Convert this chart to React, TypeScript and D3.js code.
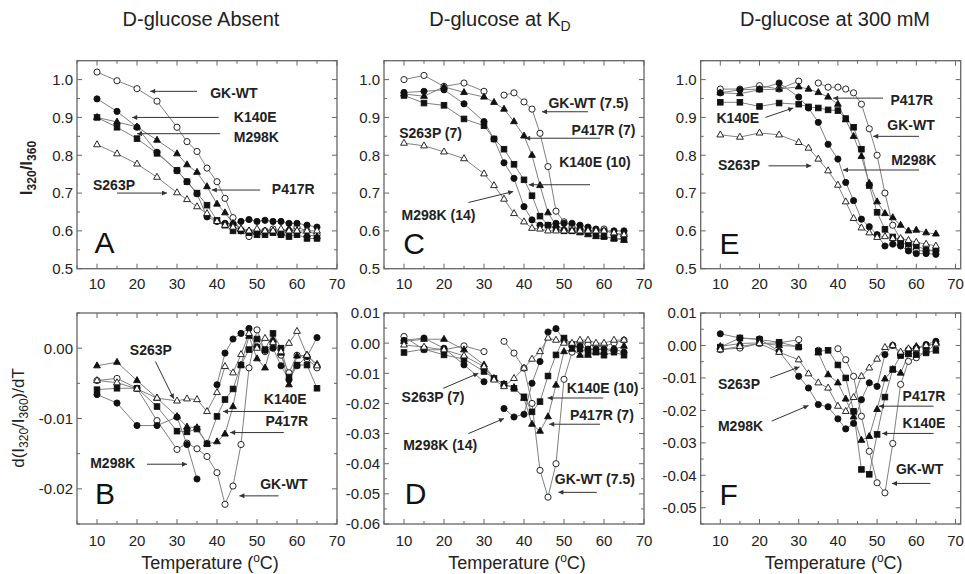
import React from "react";
import * as d3 from "d3";

// sampling temperatures (oC), shared by every curve
const temps = [10, 15, 20, 25, 30, 32.5, 35, 37.5, 40, 42, 44, 46, 48, 50, 52, 54, 56, 58, 60, 62.5, 65];

const seriesNames = ["GK-WT", "K140E", "M298K", "P417R", "S263P"];

// A: D-glucose absent, I320/I360
const absentWT = [1.02, 0.997, 0.976, 0.943, 0.874, 0.836, 0.81, 0.766, 0.73, 0.686, 0.635, 0.6, 0.585, 0.595, 0.6, 0.605, 0.59, 0.6, 0.61, 0.6, 0.59];
const absentK140E = [0.9, 0.874, 0.844, 0.805, 0.76, 0.73, 0.7, 0.668, 0.628, 0.615, 0.6, 0.6, 0.595, 0.59, 0.59, 0.595, 0.59, 0.585, 0.59, 0.58, 0.58];
const absentM298K = [0.949, 0.916, 0.874, 0.808, 0.759, 0.73, 0.698, 0.637, 0.625, 0.62, 0.618, 0.625, 0.63, 0.625, 0.628, 0.625, 0.625, 0.62, 0.62, 0.615, 0.61];
const absentP417R = [0.9, 0.888, 0.875, 0.84, 0.804, 0.775, 0.755, 0.717, 0.671, 0.648, 0.62, 0.605, 0.6, 0.598, 0.6, 0.6, 0.595, 0.605, 0.6, 0.59, 0.585];
const absentS263P = [0.828, 0.804, 0.777, 0.742, 0.701, 0.683, 0.664, 0.646, 0.625, 0.615, 0.61, 0.605, 0.6, 0.605, 0.6, 0.6, 0.605, 0.6, 0.6, 0.6, 0.6];

// B: derivative, D-glucose absent
const dAbsentWT = [-0.0046, -0.0043, -0.0057, -0.0103, -0.0144, -0.0135, -0.0143, -0.0154, -0.0177, -0.0222, -0.0196, -0.0137, -0.0028, 0.0026, -0.0005, 0.0008, -0.001, -0.0035, -0.001, -0.0015, -0.0028];
const dAbsentK140E = [-0.0059, -0.0057, -0.0057, -0.0083, -0.0118, -0.0119, -0.0115, -0.0136, -0.0097, -0.0073, -0.0058, -0.0024, -0.0002, 0.0013, -0.0002, 0.0021, 0.0, -0.0041, -0.0024, -0.0024, -0.0057];
const dAbsentM298K = [-0.0066, -0.0078, -0.011, -0.011, -0.0098, -0.0137, -0.0186, null, -0.0052, -0.0007, 0.0013, 0.0021, 0.0028, 0.0002, -0.0003, 0.0, -0.0025, -0.0045, -0.0025, -0.0012, 0.0015];
const dAbsentP417R = [-0.0025, -0.002, -0.0046, -0.0071, -0.0097, -0.0112, -0.0113, -0.0136, -0.0133, -0.0122, -0.0083, -0.0024, 0.0017, -0.0015, -0.0028, 0.0012, -0.0007, -0.0052, -0.0011, -0.001, -0.0023];
const dAbsentS263P = [-0.0046, -0.0049, -0.0058, -0.0071, -0.0075, -0.0072, -0.0073, -0.009, -0.0063, -0.0026, -0.0035, -0.0009, 0.0021, 0.0, 0.0014, 0.0008, -0.0005, 0.0007, 0.0024, -0.001, -0.0025];

// C: D-glucose at KD
const kdWT = [1.0, 1.011, 0.982, 0.991, 0.969, null, 0.959, 0.965, 0.941, 0.922, 0.858, 0.77, 0.652, 0.624, 0.61, 0.605, 0.6, 0.6, 0.605, 0.59, 0.59];
const kdK140E = [0.958, 0.938, 0.932, 0.896, 0.878, 0.843, 0.816, 0.776, 0.735, 0.693, 0.639, 0.615, 0.605, 0.6, 0.6, 0.6, 0.595, 0.59, 0.585, 0.58, 0.58];
const kdM298K = [0.966, 0.969, 0.973, 0.936, 0.889, 0.843, 0.78, 0.739, 0.664, 0.629, 0.615, 0.615, 0.62, 0.62, 0.62, 0.615, 0.61, 0.605, 0.6, 0.6, 0.6];
const kdP417R = [0.962, 0.956, 0.981, 0.966, 0.954, 0.94, 0.922, 0.889, 0.851, 0.8, 0.72, 0.648, 0.615, 0.605, 0.6, 0.595, 0.59, 0.585, 0.585, 0.58, 0.575];
const kdS263P = [0.832, 0.825, 0.809, 0.791, 0.751, 0.72, 0.684, 0.646, 0.624, 0.607, 0.605, 0.6, 0.6, 0.6, 0.6, 0.6, 0.6, 0.6, 0.6, 0.595, 0.59];

// D: derivative, D-glucose at KD
const dKdWT = [0.0022, -0.0022, -0.0022, -0.0009, -0.0028, null, 0.0006, -0.0033, -0.0083, -0.02, -0.0422, -0.0511, -0.04, -0.012, -0.003, 0.0, -0.0005, -0.001, -0.001, 0.0, 0.001];
const dKdK140E = [-0.0031, -0.002, -0.0039, -0.0053, -0.0094, -0.0117, -0.0136, -0.015, -0.0178, -0.0228, -0.0194, -0.0109, -0.0039, 0.0017, -0.0005, -0.002, -0.003, -0.003, -0.004, -0.003, -0.004];
const dKdM298K = [0.0009, 0.0017, -0.0017, -0.0072, -0.0128, null, -0.0217, -0.0245, -0.0236, -0.0133, -0.0061, 0.0037, 0.0048, 0.001, -0.001, -0.001, -0.002, -0.002, -0.002, -0.002, -0.003];
const dKdP417R = [0.0006, 0.0013, 0.0013, -0.0022, -0.0072, -0.0117, -0.0136, -0.0147, -0.0183, -0.0269, -0.0292, -0.0244, -0.0139, -0.0028, -0.002, -0.004, -0.004, -0.003, -0.003, -0.002, -0.001];
const dKdS263P = [-0.0006, -0.0013, -0.0022, -0.0042, -0.0078, -0.0122, -0.0144, -0.0117, -0.0083, -0.0053, -0.0028, 0.0017, 0.001, 0.0, 0.0, 0.001, 0.001, 0.0, 0.0, 0.001, 0.001];

// E: D-glucose at 300 mM
const sat300WT = [0.975, 0.975, 0.984, 0.975, 0.996, null, 0.991, 0.98, 0.98, 0.975, 0.965, 0.935, 0.87, 0.8, 0.7, 0.615, 0.577, 0.555, 0.548, 0.547, 0.548];
const sat300K140E = [0.94, 0.94, 0.929, 0.938, 0.935, 0.928, 0.925, 0.92, 0.918, 0.897, 0.874, 0.816, 0.72, 0.649, 0.604, 0.584, 0.568, 0.565, 0.56, 0.55, 0.548];
const sat300M298K = [0.965, 0.973, 0.975, 0.991, 0.954, 0.925, 0.887, 0.829, 0.79, 0.728, 0.68, 0.631, 0.611, 0.59, 0.56, 0.565, 0.56, 0.547, 0.54, 0.54, 0.538];
const sat300P417R = [0.965, 0.963, 0.973, 0.975, 0.981, 0.975, 0.966, 0.954, 0.935, 0.894, 0.85, 0.797, 0.726, 0.677, 0.646, 0.635, 0.615, 0.6, 0.602, 0.595, 0.592];
const sat300S263P = [0.854, 0.848, 0.859, 0.854, 0.834, 0.819, 0.79, 0.759, 0.721, 0.677, 0.633, 0.608, 0.595, 0.583, 0.585, 0.58, 0.58, 0.575, 0.57, 0.565, 0.56];

// F: derivative, D-glucose at 300 mM
const dSat300WT = [-0.0013, -0.0008, 0.0006, 0.0008, 0.0018, null, -0.0015, null, -0.001, -0.0044, -0.0095, -0.0218, -0.0326, -0.0423, -0.0454, -0.0302, -0.012, -0.0049, -0.0038, -0.002, 0.0005];
const dSat300K140E = [-0.0005, 0.0023, 0.0018, 0.001, -0.0005, null, -0.0018, -0.0015, -0.006, -0.01, -0.0203, -0.0382, -0.0397, -0.0274, -0.0159, -0.0074, -0.0031, -0.0023, -0.0028, -0.0023, -0.0015];
const dSat300M298K = [0.0036, 0.0023, 0.002, -0.0018, -0.0095, -0.0131, -0.0182, -0.0189, -0.0226, -0.0257, -0.024, -0.0167, -0.0115, -0.0126, -0.0028, 0.0, -0.0028, -0.0013, -0.0008, 0.0003, 0.0013];
const dSat300P417R = [-0.0003, 0.0006, 0.0008, 0.0, -0.0003, null, -0.0023, -0.009, -0.0115, -0.0165, -0.022, -0.0292, -0.028, -0.0197, -0.0103, -0.0074, -0.0085, -0.0028, -0.0003, -0.0005, 0.0009];
const dSat300S263P = [-0.0013, -0.0003, 0.0006, -0.0021, -0.0044, -0.0087, -0.0115, -0.0131, -0.0187, -0.0203, -0.016, -0.0095, -0.0069, -0.0042, -0.0006, 0.0, -0.002, -0.001, -0.001, 0.0, 0.0005];

const xTicks = [10, 20, 30, 40, 50, 60, 70];
const ratioTicks = [0.5, 0.6, 0.7, 0.8, 0.9, 1.0];
const dAbsentTicks = [-0.02, -0.01, 0.0];
const dKdTicks = [-0.06, -0.05, -0.04, -0.03, -0.02, -0.01, 0.0, 0.01];
const dSat300Ticks = [-0.05, -0.04, -0.03, -0.02, -0.01, 0.0, 0.01];

const FONT = "'Liberation Sans', Arial, Helvetica, sans-serif";

// marker style per series
const markStyle: Record<string, { shape: string; filled: boolean }> = {
  "GK-WT": { shape: "circle", filled: false },
  K140E: { shape: "square", filled: true },
  M298K: { shape: "circle", filled: true },
  P417R: { shape: "triangle", filled: true },
  S263P: { shape: "triangle", filled: false },
};

type Note = { text: string; x: number; y: number; from?: [number, number]; to?: [number, number] };

const Mark = ({ shape, filled, cx, cy }: any) => {
  const fill = filled ? "#111" : "#fff";
  if (shape === "circle") return <circle cx={cx} cy={cy} r={3.1} fill={fill} stroke="#111" strokeWidth={0.9} />;
  if (shape === "square")
    return <rect x={cx - 2.8} y={cy - 2.8} width={5.6} height={5.6} fill={fill} stroke="#111" strokeWidth={0.9} />;
  return (
    <path
      d={`M${cx},${cy - 3.9}L${cx + 3.4},${cy + 2.1}L${cx - 3.4},${cy + 2.1}Z`}
      fill={fill}
      stroke="#111"
      strokeWidth={0.9}
    />
  );
};

const Panel = ({ left, top, width, height, xEnd, yDomain, yTicks, yMinor, digits, series, notes, letter, labelGap }: any) => {
  const right = left + width;
  const bottom = top + height;
  // x=70 may sit a little inside the right frame
  const x = d3.scaleLinear().domain([5, 70]).range([left, xEnd ?? right]);
  const y = d3.scaleLinear().domain(yDomain).range([bottom, top]);

  const xMinor = d3.range(5, 70.01, 5);
  const yMinorTicks = d3.range(yDomain[0], yDomain[1] + yMinor / 2, yMinor);

  const line = d3
    .line<[number, number | null]>()
    .defined((d) => d[1] != null)
    .x((d) => x(d[0]))
    .y((d) => y(d[1] as number));

  return (
    <g>
      <rect x={left} y={top} width={width} height={height} fill="none" stroke="#666" strokeWidth={1.3} />
      {xMinor.map((t: number) => {
        const len = t % 10 === 0 ? 5 : 3;
        return (
          <g key={"x" + t} stroke="#666" strokeWidth={1}>
            <line x1={x(t)} x2={x(t)} y1={bottom} y2={bottom - len} />
            <line x1={x(t)} x2={x(t)} y1={top} y2={top + len} />
          </g>
        );
      })}
      {yMinorTicks.map((t: number, i: number) => {
        const major = yTicks.some((m: number) => Math.abs(m - t) < 1e-9);
        const len = major ? 5 : 3;
        return (
          <g key={"y" + i} stroke="#666" strokeWidth={1}>
            <line x1={left} x2={left + len} y1={y(t)} y2={y(t)} />
            <line x1={right} x2={right - len} y1={y(t)} y2={y(t)} />
          </g>
        );
      })}
      {xTicks.map((t) => (
        <text key={"xl" + t} x={x(t)} y={bottom + labelGap} textAnchor="middle" fontSize={15} fill="#222">
          {t}
        </text>
      ))}
      {yTicks.map((t: number) => (
        <text key={"yl" + t} x={left - 4} y={y(t)} dy="0.36em" textAnchor="end" fontSize={15} fill="#222">
          {Math.abs(t) < 1e-9 ? (0).toFixed(digits) : t.toFixed(digits)}
        </text>
      ))}
      {series.map((s: any) => (
        <path
          key={"l" + s.name}
          d={line(temps.map((t, i) => [t, s.values[i]]) as any) || ""}
          fill="none"
          stroke="#808080"
          strokeWidth={1}
        />
      ))}
      {series.map((s: any) =>
        temps.map((t, i) =>
          s.values[i] == null ? null : (
            <Mark key={s.name + i} {...markStyle[s.name]} cx={x(t)} cy={y(s.values[i])} />
          )
        )
      )}
      {notes.map((n: Note) => (
        <g key={n.text}>
          {n.from && n.to && (
            <line
              x1={x(n.from[0])}
              y1={y(n.from[1])}
              x2={x(n.to[0])}
              y2={y(n.to[1])}
              stroke="#333"
              strokeWidth={1}
              markerEnd="url(#arrow)"
            />
          )}
          <text x={x(n.x)} y={y(n.y)} fontSize={14} fontWeight="bold" fill="#222">
            {n.text}
          </text>
        </g>
      ))}
      <text x={x(letter.x)} y={y(letter.y)} fontSize={30} fill="#111">
        {letter.text}
      </text>
    </g>
  );
};

const build = (arrays: (number | null)[][]) => seriesNames.map((name, i) => ({ name, values: arrays[i] }));

const notesA: Note[] = [
  { text: "GK-WT", x: 38.3, y: 0.951, from: [35, 0.969], to: [23.3, 0.969] },
  { text: "K140E", x: 44.2, y: 0.887, from: [40.4, 0.9], to: [18.8, 0.9] },
  { text: "M298K", x: 44.2, y: 0.836, from: [40.8, 0.857], to: [20, 0.857] },
  { text: "P417R", x: 53.7, y: 0.698, from: [50.8, 0.708], to: [38.7, 0.708] },
  { text: "S263P", x: 9.0, y: 0.708, from: [15, 0.7], to: [27.5, 0.7] },
];
const notesB: Note[] = [
  { text: "S263P", x: 18.2, y: -0.001, from: [24.6, -0.0019], to: [29.2, -0.0072] },
  { text: "K140E", x: 51.7, y: -0.008, from: [56.7, -0.009], to: [41.5, -0.009] },
  { text: "P417R", x: 52.1, y: -0.0111, from: [56.7, -0.012], to: [43.3, -0.012] },
  { text: "M298K", x: 8.3, y: -0.017, from: [22.5, -0.0165], to: [32.5, -0.0165] },
  { text: "GK-WT", x: 50.8, y: -0.02, from: [55.4, -0.021], to: [45.6, -0.021] },
];
const notesC: Note[] = [
  { text: "GK-WT (7.5)", x: 46.1, y: 0.925, from: [56, 0.915], to: [44.5, 0.915] },
  { text: "P417R (7)", x: 51.9, y: 0.854, from: [59, 0.845], to: [40.3, 0.845] },
  { text: "K140E (10)", x: 48.8, y: 0.768, from: [56.5, 0.722], to: [41.2, 0.722] },
  { text: "S263P (7)", x: 8.8, y: 0.845 },
  { text: "M298K (14)", x: 9.4, y: 0.629, from: [26.1, 0.675], to: [37.3, 0.704] },
];
const notesD: Note[] = [
  { text: "S263P (7)", x: 9.4, y: -0.0194, from: [19.8, -0.015], to: [28.6, -0.01] },
  { text: "M298K (14)", x: 9.8, y: -0.0353, from: [26.1, -0.03], to: [35, -0.025] },
  { text: "K140E (10)", x: 50.7, y: -0.0165, from: [59.8, -0.0182], to: [45.9, -0.0182] },
  { text: "P417R (7)", x: 51.5, y: -0.0256, from: [59, -0.0269], to: [46.3, -0.0269] },
  { text: "GK-WT (7.5)", x: 47.7, y: -0.0467, from: [58.2, -0.0495], to: [48.6, -0.0495] },
];
const notesE: Note[] = [
  { text: "K140E", x: 9.0, y: 0.885, from: [21.5, 0.9], to: [28.6, 0.925] },
  { text: "S263P", x: 9.4, y: 0.761, from: [22.3, 0.772], to: [33.2, 0.772] },
  { text: "P417R", x: 53.4, y: 0.934, from: [51.5, 0.951], to: [38.8, 0.951] },
  { text: "GK-WT", x: 52.6, y: 0.866, from: [60.7, 0.85], to: [49, 0.85] },
  { text: "M298K", x: 53.6, y: 0.775, from: [60.7, 0.761], to: [41.3, 0.761] },
];
const notesF: Note[] = [
  { text: "S263P", x: 9.4, y: -0.0134, from: [22.7, -0.01], to: [30.2, -0.0066] },
  { text: "M298K", x: 9.4, y: -0.0264, from: [23.1, -0.0233], to: [32.5, -0.0185] },
  { text: "P417R", x: 56.5, y: -0.0172, from: [64.4, -0.0187], to: [50.5, -0.0187] },
  { text: "K140E", x: 56.5, y: -0.0254, from: [64.4, -0.0271], to: [51.3, -0.0271] },
  { text: "GK-WT", x: 54.8, y: -0.0397, from: [63.6, -0.0425], to: [53.8, -0.0425] },
];

const cols = [77, 384, 700.7];
const W = 260;
const TOP1 = 60.7;
const H1 = 208;
const TOP2 = 313;
const H2 = 211;
const END_E = 955.5;

export default function App() {
  const tempLabel = (cx: number) => (
    <text x={cx + 3} y={569} textAnchor="middle" fontSize={18} fill="#222">
      Temperature (<tspan fontSize={12} dy={-7}>o</tspan>
      <tspan dy={7}>C)</tspan>
    </text>
  );
  return (
    <svg
      width={965}
      height={574}
      style={{ position: "absolute", left: 0, top: 0, background: "#fff" }}
      fontFamily={FONT}
    >
      <defs>
        <marker id="arrow" viewBox="0 0 10 10" refX={10} refY={5} markerWidth={8} markerHeight={5} orient="auto" markerUnits="userSpaceOnUse">
          <path d="M0,0L10,5L0,10Z" fill="#333" />
        </marker>
      </defs>
      <rect width={965} height={574} fill="#fff" />

      <text x={201} y={26} textAnchor="middle" fontSize={20} fill="#222">D-glucose Absent</text>
      <text x={500} y={26} textAnchor="middle" fontSize={20} fill="#222">
        D-glucose at K<tspan fontSize={14} dy={5}>D</tspan>
      </text>
      <text x={835} y={26} textAnchor="middle" fontSize={20} fill="#222">D-glucose at 300 mM</text>

      <text transform="translate(32,168) rotate(-90)" textAnchor="middle" fontSize={17} fontWeight="bold" fill="#222">
        I<tspan fontSize={12} dy={4}>320</tspan>
        <tspan dy={-4}>/I</tspan>
        <tspan fontSize={12} dy={4}>360</tspan>
      </text>
      <text transform="translate(24,418) rotate(-90)" textAnchor="middle" fontSize={17} fill="#222">
        d(I<tspan fontSize={12} dy={4}>320</tspan>
        <tspan dy={-4}>/I</tspan>
        <tspan fontSize={12} dy={4}>360</tspan>
        <tspan dy={-4}>)/dT</tspan>
      </text>

      <Panel left={cols[0]} top={TOP1} width={W} height={H1} yDomain={[0.5, 1.05]} yTicks={ratioTicks} yMinor={0.05} digits={1}
        series={build([absentWT, absentK140E, absentM298K, absentP417R, absentS263P])} notes={notesA}
        letter={{ text: "A", x: 9.4, y: 0.542 }} labelGap={20} />
      <Panel left={cols[1]} top={TOP1} width={W} height={H1} yDomain={[0.5, 1.05]} yTicks={ratioTicks} yMinor={0.05} digits={1}
        series={build([kdWT, kdK140E, kdM298K, kdP417R, kdS263P])} notes={notesC}
        letter={{ text: "C", x: 9.8, y: 0.54 }} labelGap={20} />
      <Panel left={cols[2]} top={TOP1} width={W} height={H1} xEnd={END_E} yDomain={[0.5, 1.05]} yTicks={ratioTicks} yMinor={0.05} digits={1}
        series={build([sat300WT, sat300K140E, sat300M298K, sat300P417R, sat300S263P])} notes={notesE}
        letter={{ text: "E", x: 9.8, y: 0.54 }} labelGap={20} />

      <Panel left={cols[0]} top={TOP2} width={W} height={H2} yDomain={[-0.025, 0.005]} yTicks={dAbsentTicks} yMinor={0.005} digits={2}
        series={build([dAbsentWT, dAbsentK140E, dAbsentM298K, dAbsentP417R, dAbsentS263P])} notes={notesB}
        letter={{ text: "B", x: 9.5, y: -0.0222 }} labelGap={22} />
      <Panel left={cols[1]} top={TOP2} width={W} height={H2} yDomain={[-0.06, 0.01]} yTicks={dKdTicks} yMinor={0.005} digits={2}
        series={build([dKdWT, dKdK140E, dKdM298K, dKdP417R, dKdS263P])} notes={notesD}
        letter={{ text: "D", x: 10.2, y: -0.0533 }} labelGap={22} />
      <Panel left={cols[2]} top={TOP2} width={W} height={H2} xEnd={END_E} yDomain={[-0.055, 0.01]} yTicks={dSat300Ticks} yMinor={0.005} digits={2}
        series={build([dSat300WT, dSat300K140E, dSat300M298K, dSat300P417R, dSat300S263P])} notes={notesF}
        letter={{ text: "F", x: 9.8, y: -0.049 }} labelGap={22} />

      {tempLabel(cols[0] + W / 2)}
      {tempLabel(cols[1] + W / 2)}
      {tempLabel(cols[2] + W / 2)}
    </svg>
  );
}
